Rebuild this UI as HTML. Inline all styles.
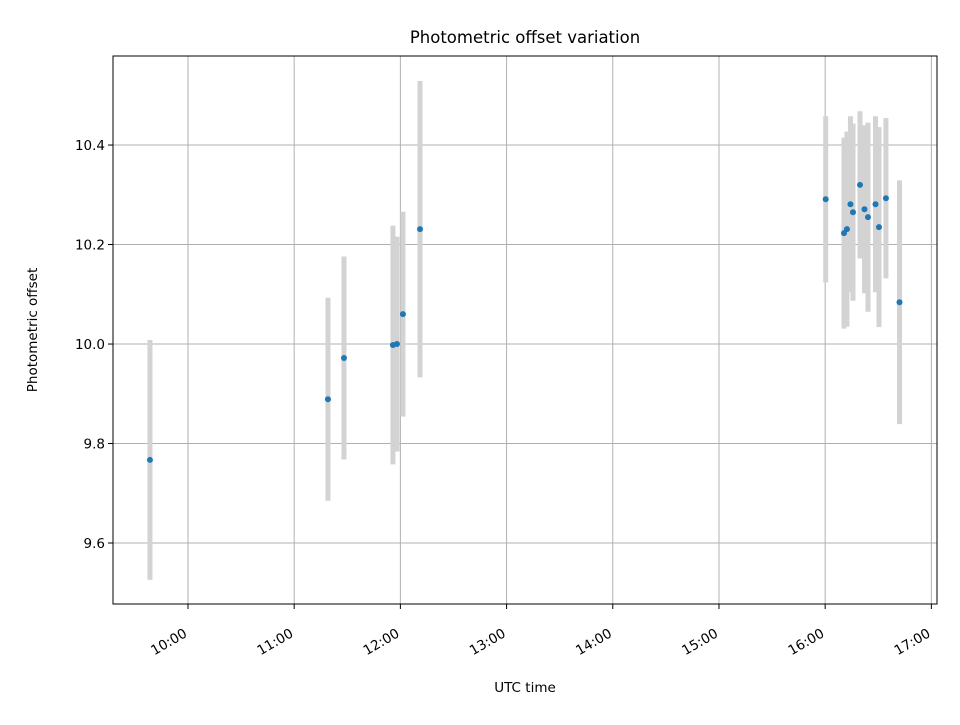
<!DOCTYPE html>
<html><head><meta charset="utf-8"><style>
body{margin:0;background:#fff;}
svg text{font-family:"DejaVu Sans","Liberation Sans",sans-serif;fill:#000;}
</style></head><body>
<svg id="chart" width="960" height="720" xmlns="http://www.w3.org/2000/svg">
<rect width="960" height="720" fill="#fff"/>
<g id="grid"></g>
<g id="bars"></g>
<g id="dots"></g>
<rect x="113" y="56" width="824" height="548" fill="none" stroke="#000" stroke-width="1"/>
<g id="ticks"></g>
<text x="525" y="43" font-size="16.5" text-anchor="middle">Photometric offset variation</text>
<text x="525" y="692" font-size="13.5" text-anchor="middle">UTC time</text>
<text transform="translate(37,330) rotate(-90)" font-size="13.5" text-anchor="middle">Photometric offset</text>
</svg>
<script>
const times=[9.642,11.318,11.469,11.930,11.968,12.024,12.185,16.005,16.177,16.205,16.238,16.262,16.328,16.370,16.403,16.474,16.507,16.572,16.700];
const offsets=[9.767,9.889,9.972,9.998,10.000,10.060,10.231,10.291,10.223,10.231,10.281,10.265,10.320,10.271,10.255,10.281,10.235,10.293,10.084];
const errors=[0.241,0.204,0.204,0.240,0.216,0.206,0.298,0.167,0.192,0.196,0.177,0.178,0.148,0.169,0.190,0.177,0.201,0.161,0.245];
const xTicks=[10,11,12,13,14,15,16,17];
const xTickLabels=["10:00","11:00","12:00","13:00","14:00","15:00","16:00","17:00"];
const yTicks=[9.6,9.8,10.0,10.2,10.4];
const yTickLabels=["9.6","9.8","10.0","10.2","10.4"];
const X0=113,X1=937,Y0=56,Y1=604,xmin=9.294,xmax=17.053,ymin=9.4774,ymax=10.579;
function sx(h){return X0+(h-xmin)/(xmax-xmin)*(X1-X0);}
function sy(v){return Y1-(v-ymin)/(ymax-ymin)*(Y1-Y0);}
const NS="http://www.w3.org/2000/svg";
function mk(tag,attrs,parent){const e=document.createElementNS(NS,tag);for(const k in attrs)e.setAttribute(k,attrs[k]);document.getElementById(parent).appendChild(e);return e;}
xTicks.forEach((t,i)=>{const x=sx(t);
 let g=mk('line',{x1:x,x2:x,y1:Y0,y2:Y1,stroke:'#b0b0b0','stroke-width':1},'grid');
 
 
 let tk=mk('line',{x1:x,x2:x,y1:Y1,y2:Y1+5,stroke:'#000'},'ticks');
 
 
 let tx=mk('text',{transform:`translate(${x},${Y1+32}) rotate(-30)`,'font-size':13.5,'text-anchor':'end'},'ticks');
 tx.textContent=xTickLabels[i];
 
 
});
yTicks.forEach((t,i)=>{const y=sy(t);
 let g=mk('line',{x1:X0,x2:X1,y1:y,y2:y,stroke:'#b0b0b0','stroke-width':1},'grid');
 
 
 let tk=mk('line',{x1:X0-5,x2:X0,y1:y,y2:y,stroke:'#000'},'ticks');
 
 
 let tx=mk('text',{x:X0-8,y:y+5,'font-size':13.5,'text-anchor':'end'},'ticks');
 tx.textContent=yTickLabels[i];
 
 
});
times.forEach((t,i)=>{const x=sx(t);
 let b=mk('line',{x1:x,x2:x,y1:sy(offsets[i]+errors[i]),y2:sy(offsets[i]-errors[i]),stroke:'#d3d3d3','stroke-width':5},'bars');
 
 
});
times.forEach((t,i)=>{
 let c=mk('circle',{cx:sx(t),cy:sy(offsets[i]),r:3,fill:'#1f77b4'},'dots');
 
 
});
</script>
</body></html>
